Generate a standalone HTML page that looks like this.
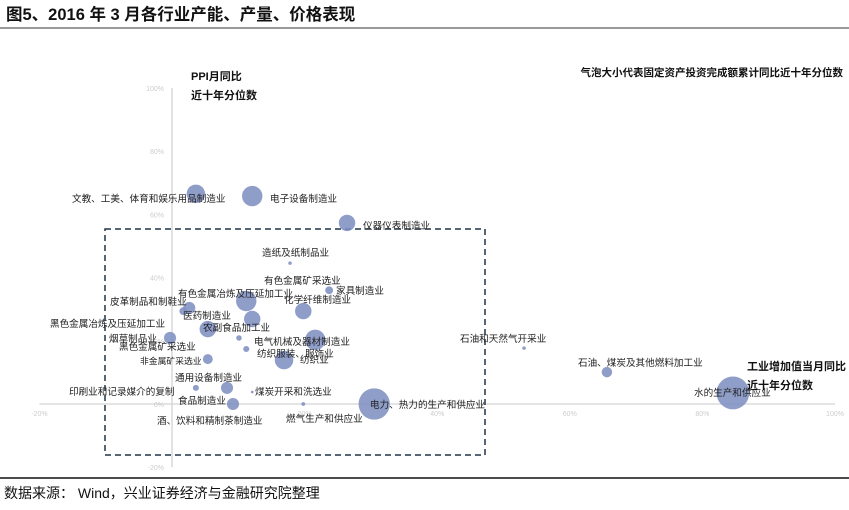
<!DOCTYPE html>
<html><head><meta charset="utf-8"><style>
body{margin:0;width:849px;height:505px;background:#fff;overflow:hidden;font-family:"Liberation Sans","Noto Sans CJK SC",sans-serif;}
svg text{font-family:"Liberation Sans","Noto Sans CJK SC",sans-serif;}
</style></head><body>
<svg width="849" height="505">
<text x="6" y="20" font-size="16.5" font-weight="bold" fill="#111">图5、2016 年 3 月各行业产能、产量、价格表现</text>
<line x1="0" y1="28" x2="849" y2="28" stroke="#333" stroke-width="1"/>
<line x1="0" y1="478" x2="849" y2="478" stroke="#111" stroke-width="1.5"/>
<text x="4" y="498" font-size="14" fill="#111">数据来源：  Wind，兴业证券经济与金融研究院整理</text>
<g id="axes"></g>
<rect x="105" y="229" width="380" height="226" fill="none" stroke="#1f3347" stroke-width="1.5" stroke-dasharray="6,4"/>
<g id="bubbles"></g>
<g id="labels" font-size="9.6" fill="#222"></g>
<text x="191" y="80" font-size="11" font-weight="bold" fill="#111">PPI月同比</text>
<text x="191" y="99" font-size="11" font-weight="bold" fill="#111">近十年分位数</text>
<text x="747" y="370" font-size="11" font-weight="bold" fill="#111">工业增加值当月同比</text>
<text x="747" y="389" font-size="11" font-weight="bold" fill="#111">近十年分位数</text>
<text x="843" y="76" font-size="10.5" font-weight="bold" fill="#111" text-anchor="end">气泡大小代表固定资产投资完成额累计同比近十年分位数</text>
</svg>
<script>
const industries=["文教、工美、体育和娱乐用品制造业","电子设备制造业","仪器仪表制造业","造纸及纸制品业","有色金属矿采选业","有色金属冶炼及压延加工业","化学纤维制造业","皮革制品和制鞋业","黑色金属冶炼及压延加工业","医药制造业","农副食品加工业","烟草制品业","黑色金属矿采选业","电气机械及器材制造业","纺织服装、服饰业","纺织业","非金属矿采选业","通用设备制造业","印刷业和记录媒介的复制","煤炭开采和洗选业","食品制造业","燃气生产和供应业","电力、热力的生产和供应业","石油和天然气开采业","石油、煤炭及其他燃料加工业","水的生产和供应业","家具制造业","酒、饮料和精制茶制造业"];
const ivaPct=[3.6,12.1,26.4,17.8,23.7,11.2,19.8,2.6,1.7,12.1,5.4,-0.3,10.1,21.6,11.2,16.9,5.4,8.3,3.6,12.1,9.2,19.8,30.5,53.1,65.6,84.6,23.9,9.2];
const ppiPct=[66.5,65.8,57.3,44.6,36.0,32.6,29.4,30.4,29.4,26.9,23.7,20.9,20.9,20.3,17.4,13.9,14.2,5.1,5.1,3.8,0.0,0.0,0.0,17.7,10.1,3.5,36.3,0.0];
const fixedInvPct=[28,34,22,1,5,34,22,12,5,22,22,12,2.5,34,3,28,8,12,3,0.6,12,1.2,80,1,9,88,0,0];
const xTicks=["-20%","0%","20%","40%","60%","80%","100%"];const xTickVals=[-20,0,20,40,60,80,100];
const yTicks=["-20%","0%","20%","40%","60%","80%","100%"];const yTickVals=[-20,0,20,40,60,80,100];
const X=v=>172+v*6.63, Y=v=>404-v*3.16, R=v=>Math.sqrt(v)*1.75;
const NS="http://www.w3.org/2000/svg";
function mk(t,a,p){const e=document.createElementNS(NS,t);for(const k in a)e.setAttribute(k,a[k]);p.appendChild(e);return e;}
const ax=document.getElementById('axes');
let l=mk('line',{x1:X(-20),y1:Y(0),x2:X(100),y2:Y(0),stroke:'#c8c8c8','stroke-width':1},ax);


l=mk('line',{x1:X(0),y1:Y(100),x2:X(0),y2:Y(-20),stroke:'#d8d8d8','stroke-width':1.5},ax);


xTickVals.forEach((v,i)=>{if(v===0)return;const t=mk('text',{x:X(v),y:Y(0)+12,'font-size':7,fill:'#ccc','text-anchor':'middle'},ax);t.textContent=xTicks[i];

});
yTickVals.forEach((v,i)=>{const t=mk('text',{x:X(0)-8,y:Y(v)+3,'font-size':7,fill:'#ccc','text-anchor':'end'},ax);t.textContent=yTicks[i];

});
const bg=document.getElementById('bubbles');
industries.forEach((n,i)=>{if(!fixedInvPct[i])return;const c=mk('circle',{cx:X(ivaPct[i]),cy:Y(ppiPct[i]),r:R(fixedInvPct[i]),fill:'#7f90c2','fill-opacity':0.88},bg);

});
const lbl=[[72,202],[270,202],[363,229],[262,256],[264,284],[178,297],[284,303],[110,305],[50,327],[183,319],[203,331],[109,342],[119,350],[254,345],[257,357],[300,363],[140,364],[175,381],[69,395],[255,395],[178,404],[286,422],[370,408],[460,342],[578,366],[694,396],[336,294],[157,424]];
const lg=document.getElementById('labels');
industries.forEach((n,i)=>{const t=mk('text',{x:lbl[i][0],y:lbl[i][1]},lg);if(i===16)t.setAttribute('font-size','8.8');t.textContent=n;

});
</script>
</body></html>
